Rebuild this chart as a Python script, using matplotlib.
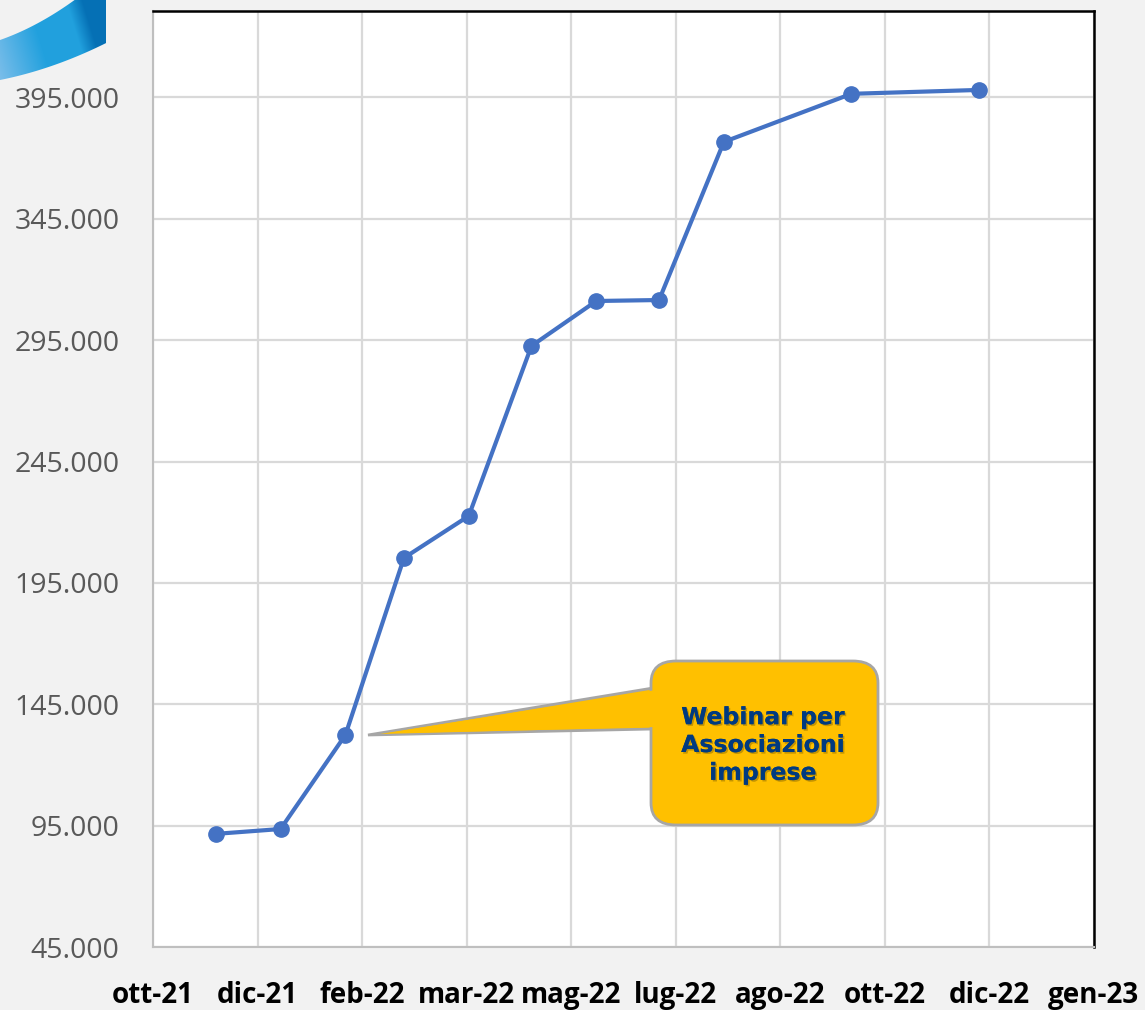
import datetime as dt
import numpy as np
import matplotlib
matplotlib.use("Agg")
import matplotlib.pyplot as plt
from matplotlib.patches import FancyBboxPatch, Polygon
import matplotlib.patheffects as pe

# ---- data ----
dates = ["2021-11-30", "2021-12-31", "2022-01-31", "2022-02-28", "2022-03-31",
         "2022-04-30", "2022-05-31", "2022-06-30", "2022-07-31", "2022-09-30",
         "2022-11-30"]
values = [91700, 93700, 132400, 205300, 222600, 292600, 311100, 311500,
          376600, 396400, 398000]
yticks = [45000, 95000, 145000, 195000, 245000, 295000, 345000, 395000]
ytick_labels = ["45.000", "95.000", "145.000", "195.000", "245.000",
                "295.000", "345.000", "395.000"]
xtick_labels = ["ott-21", "dic-21", "feb-22", "mar-22", "mag-22", "lug-22",
                "ago-22", "ott-22", "dic-22", "gen-23"]
callout_text = "Webinar per\nAssociazioni\nimprese"

plt.rcParams['font.family'] = ['Open Sans', 'DejaVu Sans']

W, H = 1145, 1010
fig = plt.figure(figsize=(W / 100, H / 100), dpi=100, facecolor="#f2f2f2")

def fx(px):
    return px / W

def fy(py):
    return 1 - py / H

ax = fig.add_axes([fx(153), fy(947.3), fx(1094) - fx(153), fy(11) - fy(947.3)])
ax.set_facecolor("white")

x = [dt.datetime.strptime(d, "%Y-%m-%d") for d in dates]
start = dt.datetime(2021, 10, 31)
xt = [start + dt.timedelta(days=50 * i) for i in range(len(xtick_labels))]

ax.plot(x, values, color="#4472C4", lw=3.0, marker="o", ms=11,
        solid_capstyle="round", zorder=5)

ax.set_xlim(xt[0], xt[-1])
ax.set_ylim(45000, 430500)
ax.set_xticks(xt)
ax.set_xticklabels(xtick_labels)
ax.set_yticks(yticks)
ax.set_yticklabels(ytick_labels)
ax.grid(True, color="#d9d9d9", lw=1.6)
ax.set_axisbelow(True)
ax.tick_params(axis="y", length=0, pad=24, labelsize=20.5, labelcolor="#595959")
ax.tick_params(axis="x", length=0, pad=24, labelsize=20, labelcolor="black")
for lab in ax.get_xticklabels():
    lab.set_fontweight("bold")

for s in ["top", "right"]:
    ax.spines[s].set_color("black")
    ax.spines[s].set_linewidth(1.8)
for s in ["left", "bottom"]:
    ax.spines[s].set_color("#bfbfbf")
    ax.spines[s].set_linewidth(1.5)

# ---- callout ----
bx0, by0, bx1, by1 = 651, 661, 878, 825
box = FancyBboxPatch((fx(bx0), fy(by1)), fx(bx1 - bx0), (by1 - by0) / H,
                     boxstyle="round,pad=0,rounding_size=0.022",
                     transform=fig.transFigure, facecolor="#FFC000",
                     edgecolor="#a6a6a6", lw=2, zorder=10, mutation_aspect=1)
fig.add_artist(box)
wedge = Polygon([(fx(368), fy(735)), (fx(653), fy(688)), (fx(653), fy(729))],
                closed=True, transform=fig.transFigure, facecolor="#FFC000",
                edgecolor="#a6a6a6", lw=2, zorder=9)
fig.add_artist(wedge)
wedge2 = Polygon([(fx(380), fy(734)), (fx(656), fy(690)), (fx(656), fy(727))],
                 closed=True, transform=fig.transFigure, facecolor="#FFC000",
                 edgecolor="none", zorder=11)
fig.add_artist(wedge2)
fig.text(fx(763), fy(745), callout_text, ha="center", va="center",
         fontsize=17, fontweight="bold", color="#003A80",
         family=["DejaVu Sans"], linespacing=1.2, zorder=12,
         path_effects=[pe.withSimplePatchShadow(offset=(1.2, -1.2), shadow_rgbFace="#7f6000", alpha=0.45),
                       pe.Normal()])

# ---- decorative swoosh (top-left) ----
xs = np.linspace(0, 106, 80)
upper = 40 - 0.35 * xs - 0.0025 * xs ** 2
lower = 80 - 0.20 * xs - 0.0014 * xs ** 2
verts = [(fx(a), fy(b)) for a, b in zip(xs, upper)] + \
        [(fx(a), fy(b)) for a, b in zip(xs[::-1], lower[::-1])]
clip = Polygon(verts, closed=True, transform=fig.transFigure, facecolor="none",
               edgecolor="none")
fig.add_artist(clip)
gax = fig.add_axes([0, fy(90), fx(110), 90 / H])
gax.set_axis_off()
gx = np.linspace(0, 1, 200)
gy = np.linspace(0, 1, 100)
GX, GY = np.meshgrid(gx, gy)
c_light = np.array([0.50, 0.75, 0.92])
c_mid = np.array([0.13, 0.63, 0.87])
c_dark = np.array([0.02, 0.44, 0.71])
t = np.clip(GX + 0.25 * GY, 0, 1)
img = np.zeros(GX.shape + (3,))
for k in range(3):
    img[..., k] = np.where(t < 0.5,
                           c_light[k] + (c_mid[k] - c_light[k]) * (t / 0.5),
                           np.where(t < 0.85, c_mid[k],
                                    c_mid[k] + (c_dark[k] - c_mid[k]) * ((t - 0.85) / 0.15)))
im = gax.imshow(img, extent=[0, 1, 0, 1], aspect="auto", origin="lower")
im.set_clip_path(clip)

fig.savefig("out.png", dpi=100, facecolor=fig.get_facecolor())
